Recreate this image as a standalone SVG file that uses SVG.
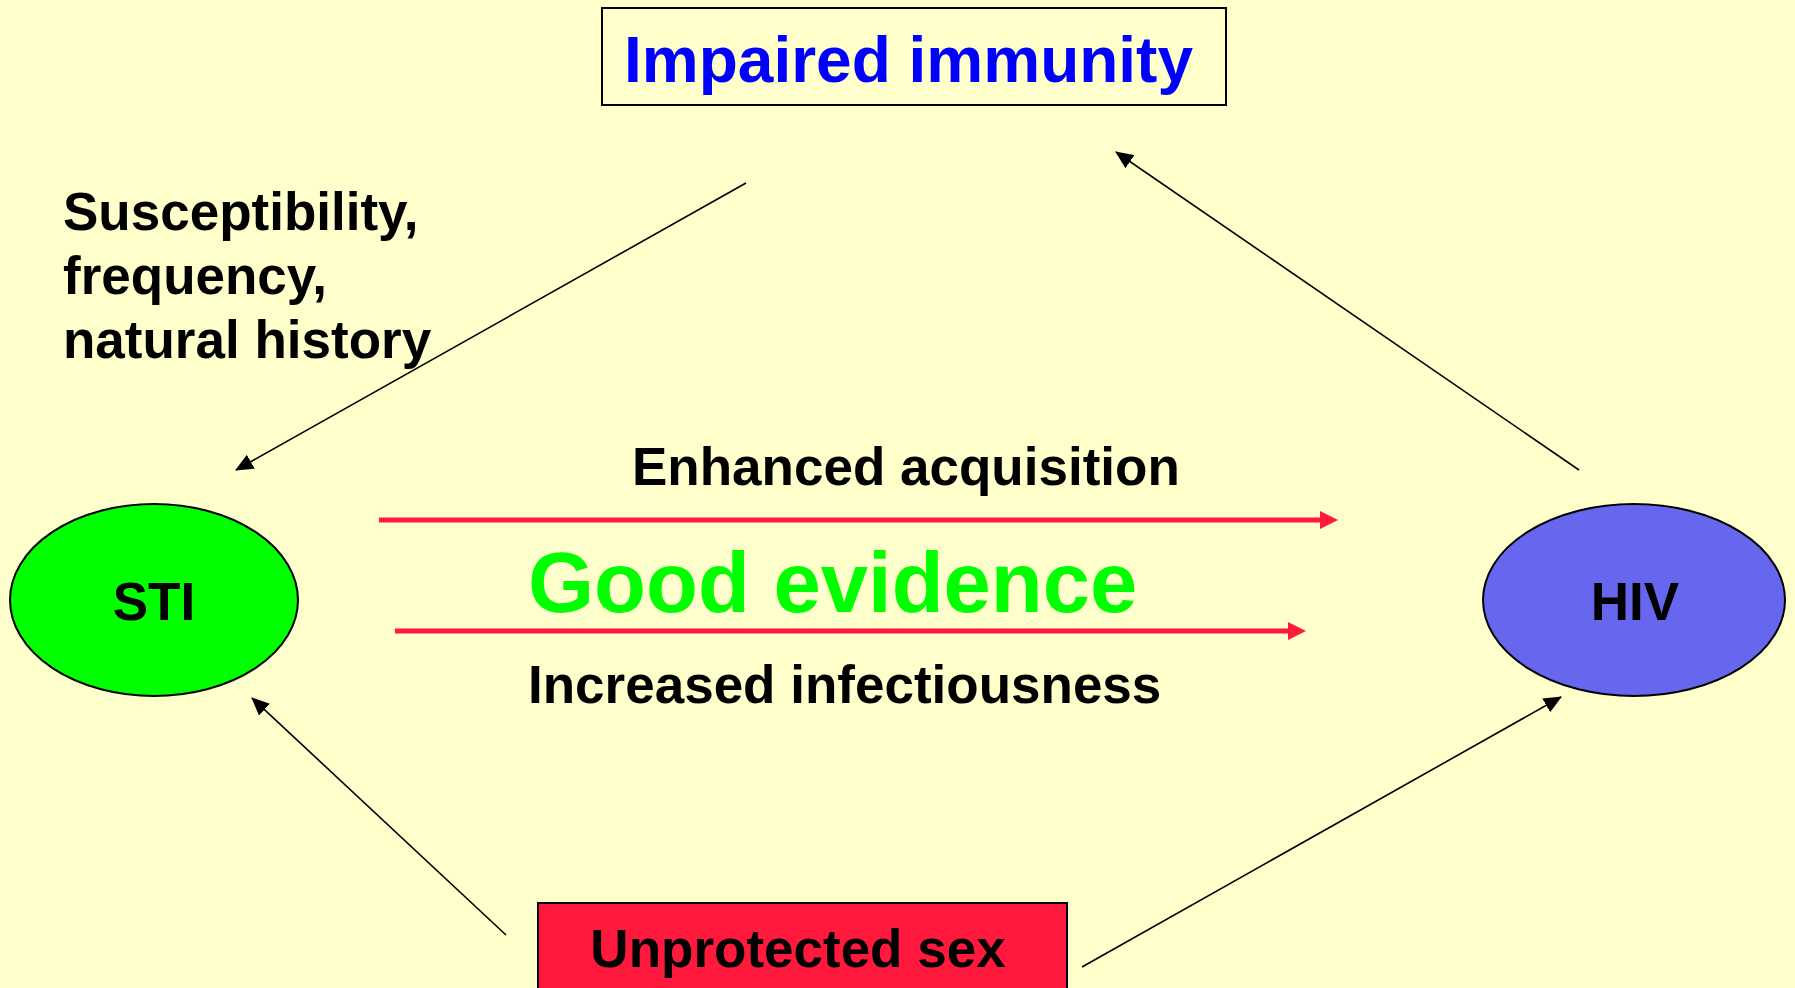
<svg xmlns="http://www.w3.org/2000/svg" width="1795" height="988" viewBox="0 0 1795 988">
<defs>
<style>
text{font-family:"Liberation Sans",Arial,sans-serif;font-weight:bold;}
.lbl{font-size:53px;fill:#000;}
.blk{stroke:#000;stroke-width:1.6;fill:none;}
.red{stroke:#FF1A3D;stroke-width:5;fill:none;}
</style>
<marker id="ah" markerUnits="userSpaceOnUse" markerWidth="18" markerHeight="16" viewBox="0 0 18 16" refX="17" refY="8" orient="auto">
<path d="M0,0 L18,8 L0,16 z" fill="#000"/>
</marker>
<marker id="rh" markerUnits="userSpaceOnUse" markerWidth="18" markerHeight="18" viewBox="0 0 18 18" refX="1" refY="9" orient="auto">
<path d="M0,0 L18,9 L0,18 z" fill="#FF1A3D"/>
</marker>
</defs>
<rect width="1795" height="988" fill="#FFFFCC"/>

<g id="impaired-immunity">
<rect x="602" y="8" width="624" height="97" fill="#FFFFCC" stroke="#000" stroke-width="2"/>
<text x="624" y="82" font-size="64" fill="#0000FF">Impaired immunity</text>
</g>

<g id="sti">
<ellipse cx="154" cy="600" rx="144" ry="96" fill="#00FF00" stroke="#000" stroke-width="2"/>
<text x="154" y="620" text-anchor="middle" class="lbl">STI</text>
</g>

<g id="hiv">
<ellipse cx="1634" cy="600" rx="151" ry="96" fill="#6666EE" stroke="#000" stroke-width="2"/>
<text x="1635" y="620" text-anchor="middle" class="lbl">HIV</text>
</g>

<g id="unprotected-sex">
<rect x="538" y="903" width="529" height="100" fill="#FF1A3D" stroke="#000" stroke-width="2"/>
<text x="798" y="967" text-anchor="middle" class="lbl">Unprotected sex</text>
</g>

<g id="labels">
<text class="lbl" x="63" y="230">Susceptibility,</text>
<text class="lbl" x="63" y="294">frequency,</text>
<text class="lbl" x="63" y="358">natural history</text>
<text class="lbl" x="632" y="485">Enhanced acquisition</text>
<text x="528" y="612" font-size="85" fill="#00FF00">Good evidence</text>
<text class="lbl" x="528" y="703">Increased infectiousness</text>
</g>

<g id="connectors">
<line class="blk" x1="746" y1="183" x2="236" y2="470" marker-end="url(#ah)"/>
<line class="blk" x1="1579" y1="470" x2="1116" y2="152" marker-end="url(#ah)"/>
<line class="blk" x1="506" y1="935" x2="252" y2="698" marker-end="url(#ah)"/>
<line class="blk" x1="1082" y1="967" x2="1561" y2="697" marker-end="url(#ah)"/>
<line class="red" x1="379" y1="520" x2="1321" y2="520" marker-end="url(#rh)"/>
<line class="red" x1="395" y1="631" x2="1289" y2="631" marker-end="url(#rh)"/>
</g>
</svg>
